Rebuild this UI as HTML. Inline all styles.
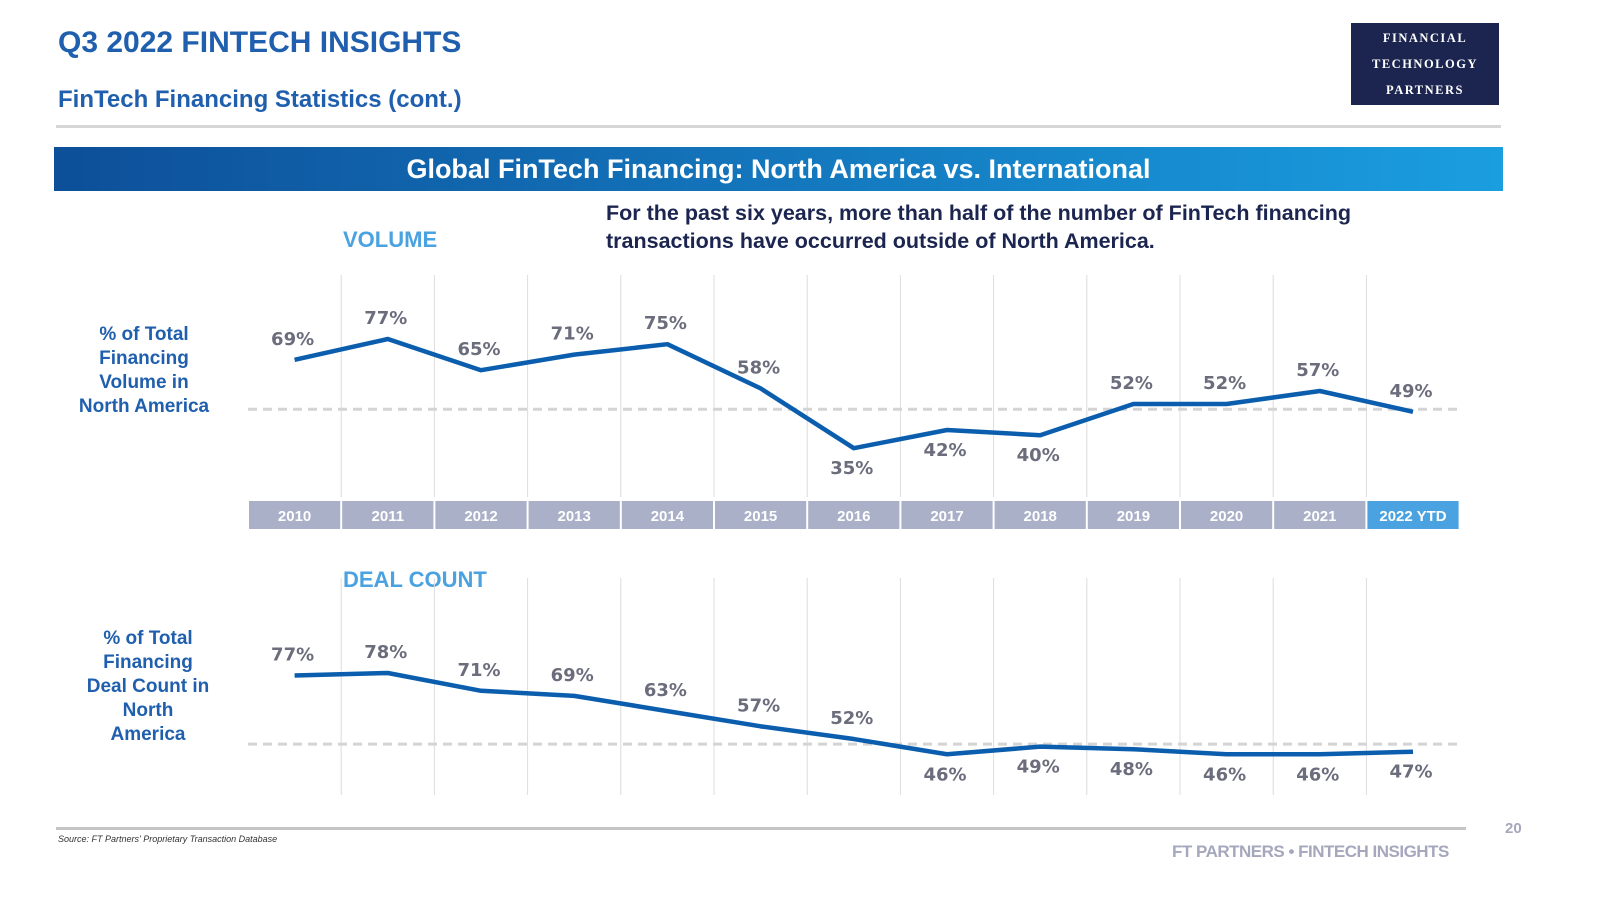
<!DOCTYPE html>
<html><head><meta charset="utf-8"><style>
body{margin:0;width:1600px;height:900px;background:#fff;font-family:"Liberation Sans",sans-serif;position:relative;overflow:hidden}
.a{position:absolute}
</style></head><body>
<div class="a" style="left:58px;top:26px;font-size:30px;font-weight:bold;color:#1f5fae">Q3 2022 FINTECH INSIGHTS</div>
<div class="a" style="left:58px;top:86px;font-size:24px;font-weight:bold;color:#1f5fae">FinTech Financing Statistics (cont.)</div>
<div class="a" style="left:1351px;top:23px;width:148px;height:82px;background:#1b2550;color:#fff;font-family:'Liberation Serif',serif;font-weight:bold;font-size:12.5px;letter-spacing:1.5px;text-align:center;line-height:26px;padding-top:2px;box-sizing:border-box">FINANCIAL<br>TECHNOLOGY<br>PARTNERS</div>
<div class="a" style="left:56px;top:125px;width:1445px;height:3px;background:#d6d6d6"></div>
<div class="a" style="left:54px;top:147px;width:1449px;height:44px;background:linear-gradient(90deg,#0d4f99,#1a9ee0);color:#fff;font-size:27px;font-weight:bold;text-align:center;line-height:44px">Global FinTech Financing: North America vs. International</div>
<div class="a" style="left:606px;top:199px;font-size:21.5px;font-weight:bold;color:#1b2550;line-height:28px">For the past six years, more than half of the number of FinTech financing<br>transactions have occurred outside of North America.</div>
<div class="a" style="left:343px;top:227px;font-size:22px;font-weight:bold;color:#4aa3e0">VOLUME</div>
<div class="a" style="left:343px;top:567px;font-size:22px;font-weight:bold;color:#4aa3e0">DEAL COUNT</div>
<div class="a" style="left:64px;top:323px;width:160px;text-align:center;font-size:19px;font-weight:bold;color:#1f5fae;line-height:24px">% of Total<br>Financing<br>Volume in<br>North America</div>
<div class="a" style="left:78px;top:627px;width:140px;text-align:center;font-size:19px;font-weight:bold;color:#1f5fae;line-height:24px">% of Total<br>Financing<br>Deal Count in<br>North<br>America</div>
<svg class="a" style="left:0;top:0" width="1600" height="900" id="chart"></svg>
<div class="a" style="left:56px;top:827px;width:1410px;height:3px;background:#c4c4c4"></div>
<div class="a" style="left:58px;top:834px;font-size:9px;font-style:italic;color:#333">Source: FT Partners' Proprietary Transaction Database</div>
<div class="a" style="left:1172px;top:842px;font-size:17px;font-weight:bold;color:#a5a7bd;letter-spacing:-0.5px">FT PARTNERS • FINTECH INSIGHTS</div>
<div class="a" style="left:1505px;top:820px;font-size:15px;font-weight:bold;color:#a5a7bd">20</div>
<script>
const years=["2010","2011","2012","2013","2014","2015","2016","2017","2018","2019","2020","2021","2022 YTD"];
const volume=[69,77,65,71,75,58,35,42,40,52,52,57,49];
const dealCount=[77,78,71,69,63,57,52,46,49,48,46,46,47];
const volumeLabelBelow=[0,0,0,0,0,0,1,1,1,0,0,0,0];
const dealLabelBelow=[0,0,0,0,0,0,0,1,1,1,1,1,1];
const threshold=50;
const NS="http://www.w3.org/2000/svg";
const svg=document.getElementById('chart');
function mk(t,a){const e=document.createElementNS(NS,t);for(const k in a)e.setAttribute(k,a[k]);svg.appendChild(e);return e;}
const x0=248,cw=93.2;
const xc=i=>x0+cw*(i+0.5);
const yVol=v=>339+(77-v)*2.6;
const yDeal=v=>673+(78-v)*2.54;
function grid(top,bot){for(let i=1;i<years.length;i++){const l=mk('line',{x1:x0+cw*i,x2:x0+cw*i,y1:top,y2:bot,stroke:'#dcdcdc','stroke-width':1});}}
grid(275,497);grid(578,795);
years.forEach((y,i)=>{
 const r=mk('rect',{x:x0+cw*i+1,y:501,width:cw-2,height:28,fill:i==years.length-1?'#4aa3e0':'#a9b0c8'});
 
 const t=mk('text',{x:xc(i),y:521,'text-anchor':'middle','font-size':15,'font-weight':'bold',fill:'#fff','font-family':'Liberation Sans'});t.textContent=y;
 
});
function series(vals,below,ys,name){
 const d=mk('line',{x1:248,x2:1457,y1:ys(threshold),y2:ys(threshold),stroke:'#d4d4d4','stroke-width':3,'stroke-dasharray':'9,6'});
 
 const p=mk('polyline',{points:vals.map((v,i)=>xc(i)+','+ys(v)).join(' '),fill:'none',stroke:'#0b5ead','stroke-width':4.5,'stroke-linejoin':'round'});
 
 vals.forEach((v,i)=>{
  const t=mk('text',{x:xc(i)-2,y:ys(v)+(below[i]?26:-15),'text-anchor':'middle','font-size':18,'font-weight':'bold',fill:'#6b6d7c','font-family':'DejaVu Sans'});
  t.textContent=v+'%';
  
 });
}
series(volume,volumeLabelBelow,yVol,'volume');
series(dealCount,dealLabelBelow,yDeal,'deal-count');
</script>
</body></html>
